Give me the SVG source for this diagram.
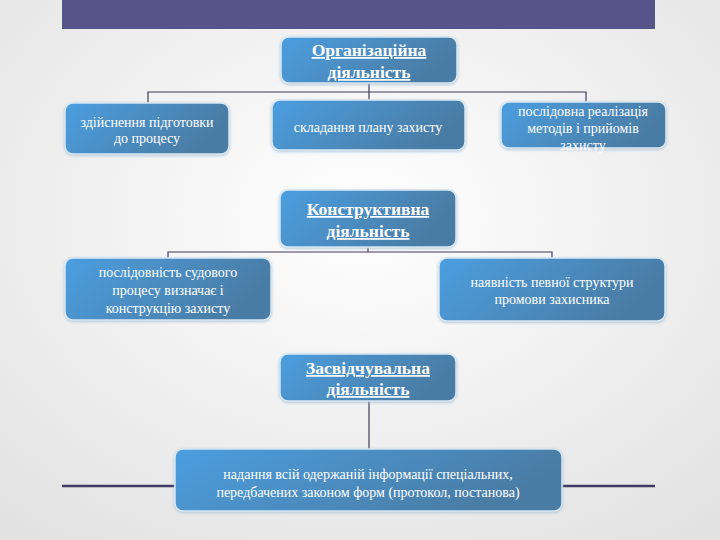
<svg xmlns="http://www.w3.org/2000/svg" width="720" height="540" viewBox="0 0 720 540">
<defs>
<radialGradient id="bg" cx="50%" cy="40%" r="75%">
<stop offset="0" stop-color="#ffffff"/>
<stop offset="1" stop-color="#e2e2e2"/>
</radialGradient>
<linearGradient id="box" x1="0" y1="0" x2="1" y2="0.3">
<stop offset="0" stop-color="#4c9ee0"/>
<stop offset="1" stop-color="#4a7ca4"/>
</linearGradient>
<filter id="sh" x="-10%" y="-10%" width="120%" height="130%">
<feDropShadow dx="0" dy="1" stdDeviation="1.5" flood-color="#9fb8d0" flood-opacity="0.8"/>
</filter>
</defs>
<style>
.b{fill:url(#box);stroke:#d8e8f4;stroke-width:1.5;filter:url(#sh)}
.t{font-family:'Liberation Serif','Times New Roman',serif;font-size:14px;fill:#ffffff;text-anchor:middle}
.h{font-family:'Liberation Serif','Times New Roman',serif;font-size:17.5px;font-weight:bold;fill:#ffffff;text-anchor:middle;text-decoration:underline}
.c{fill:none;stroke:#3e3a5a;stroke-width:1.2}
.d{fill:none;stroke:#3e3a64;stroke-width:2.5}
</style>
<rect width="720" height="540" fill="url(#bg)"/>
<rect x="62" y="0" width="593" height="29" fill="#55558a"/>
<g id="connectors">
<path class="c" d="M369 83V92M148 103V92H586V103M369 92V100"/>
<path class="c" d="M368 247V252M168 258V252H552V258"/>
<path class="c" d="M369 401V449"/>
<path class="d" d="M62 486H175M562 486H655"/>
</g>
<g id="n1"><rect class="b" x="281" y="37" width="176" height="46" rx="8"/>
<text class="h" x="369" y="56">Організаційна</text><text class="h" x="369" y="78">діяльність</text></g>
<g id="n1a"><rect class="b" x="65" y="103" width="164" height="51" rx="8"/>
<text class="t" x="147" y="127">здійснення підготовки</text><text class="t" x="147" y="143">до процесу</text></g>
<g id="n1b"><rect class="b" x="272" y="100" width="193" height="50" rx="8"/>
<text class="t" x="368" y="132">складання плану захисту</text></g>
<g id="n1c"><rect class="b" x="501" y="102" width="165" height="46" rx="8"/>
<text class="t" x="583" y="116">послідовна реалізація</text><text class="t" x="583" y="133">методів і прийомів</text><text class="t" x="583" y="150">захисту</text></g>
<g id="n2"><rect class="b" x="280" y="190" width="176" height="57" rx="8"/>
<text class="h" x="368" y="215">Конструктивна</text><text class="h" x="368" y="237">діяльність</text></g>
<g id="n2a"><rect class="b" x="65" y="258" width="206" height="62" rx="8"/>
<text class="t" x="168" y="277">послідовність судового</text><text class="t" x="168" y="295">процесу визначає і</text><text class="t" x="168" y="313">конструкцію захисту</text></g>
<g id="n2b"><rect class="b" x="439" y="258" width="226" height="63" rx="8"/>
<text class="t" x="552" y="287">наявність певної структури</text><text class="t" x="552" y="304">промови захисника</text></g>
<g id="n3"><rect class="b" x="280" y="354" width="176" height="47" rx="8"/>
<text class="h" x="368" y="374">Засвідчувальна</text><text class="h" x="368" y="395">діяльність</text></g>
<g id="n3a"><rect class="b" x="175" y="449" width="387" height="62" rx="8"/>
<text class="t" x="368" y="479">надання всій одержаній інформації спеціальних,</text><text class="t" x="368" y="497">передбачених законом форм (протокол, постанова)</text></g>
</svg>
